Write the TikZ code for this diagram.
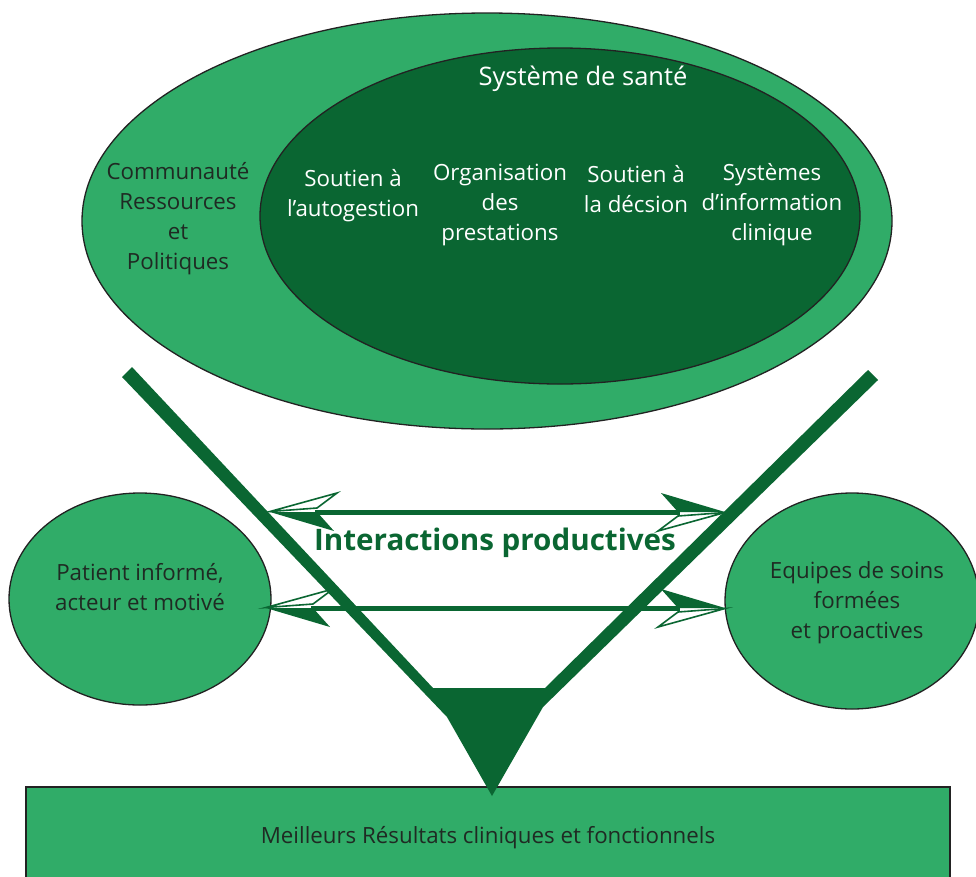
\documentclass[tikz,border=0pt]{standalone}
\usepackage{fontspec}
\setmainfont{Open Sans}
\usetikzlibrary{shapes.geometric}
\definecolor{ltgreen}{HTML}{30AC68}
\definecolor{dkgreen}{HTML}{0A6632}
\definecolor{txt}{HTML}{1F2A23}
\definecolor{edge}{HTML}{222222}
\tikzset{
  every node/.style={inner sep=0pt, outer sep=0pt},
  bigtxt/.style={font=\fontsize{22.3}{30}\selectfont, align=center, text=txt},
  whitetxt/.style={font=\fontsize{22.3}{30}\selectfont, align=center, text=white},
  blob/.style={ellipse, draw=edge, line width=1.3pt, fill=ltgreen},
  barbhead/.pic={
    \fill[dkgreen] (0,0) -- (47,0) -- (64,19) -- cycle;
    \filldraw[fill=white, draw=dkgreen, line width=1.6pt, line join=miter, miter limit=20]
      (0,-0.5) -- (67,-19) -- (47,-4) -- cycle;
  },
  shaft/.style={draw=dkgreen, line width=5pt},
}
\begin{document}
\begin{tikzpicture}[x=1pt,y=-1pt]
\useasboundingbox (0,0) rectangle (976,876);
\clip (0,0) rectangle (976,876);
\fill[white] (0,0) rectangle (976,876);

% top ellipses
\node[blob, minimum width=810, minimum height=416] (outer) at (487,221) {};
\node[blob, fill=dkgreen, minimum width=600, minimum height=336] (inner) at (560,216) {};

\node[bigtxt] (communaute) at (178,219) {Communauté\\Ressources\\et\\Politiques};
\node[whitetxt, font=\fontsize{25.5}{30}\selectfont] (sante) at (583,79) {Système de santé};
\node[whitetxt] (autogestion) at (353,196) {Soutien à\\l’autogestion};
\node[whitetxt] (organisation) at (500,205) {Organisation\\des\\prestations};
\node[whitetxt] (decision) at (636,189) {Soutien à\\la décsion};
\node[whitetxt] (information) at (772,205) {Systèmes\\d’information\\clinique};

% side circles
\node[blob, minimum width=262, minimum height=212] (patient) at (140,599) {};
\node[bigtxt] (patienttxt) at (140,587) {Patient informé,\\acteur et motivé};
\node[blob, minimum width=254, minimum height=216] (equipes) at (852,601) {};
\node[bigtxt] (equipestxt) at (857,603) {Equipes de soins\\formées\\et proactives};

% bottom box
\node[draw=edge, line width=1.3pt, fill=ltgreen, minimum width=924, minimum height=110, anchor=north west] (result) at (26,787) {};
\node[bigtxt] (resulttxt) at (488,838) {Meilleurs Résultats cliniques et fonctionnels};

% arrows
\coordinate (tl1) at (270,512);
\coordinate (tr1) at (725,512);
\coordinate (tl2) at (266,608);
\coordinate (tr2) at (725,608);
\draw[shaft] ([xshift=45]tl1) -- ([xshift=-45]tr1);
\draw[shaft] ([xshift=45]tl2) -- ([xshift=-45]tr2);
\pic at (tl1) {barbhead};
\pic[rotate=180] at (tr1) {barbhead};
\pic at (tl2) {barbhead};
\pic[rotate=180] at (tr2) {barbhead};

% V funnel
\coordinate (vla) at (122,377);
\coordinate (vlb) at (132,367);
\coordinate (vlc) at (433,688);
\coordinate (vrc) at (545,688);
\coordinate (vrb) at (868,370);
\coordinate (vra) at (878,380);
\coordinate (vrd) at (543,707);
\coordinate (vtip) at (492,796);
\coordinate (vld) at (447,717);
\fill[dkgreen] (vla) -- (vlb) -- (vlc) -- (vrc) -- (vrb) -- (vra) -- (vrd) -- (vtip) -- (vld) -- cycle;

\node[font=\fontsize{29.6}{34}\selectfont\bfseries, text=dkgreen] (interactions) at (495,543) {Interactions productives};
\end{tikzpicture}
\end{document}
